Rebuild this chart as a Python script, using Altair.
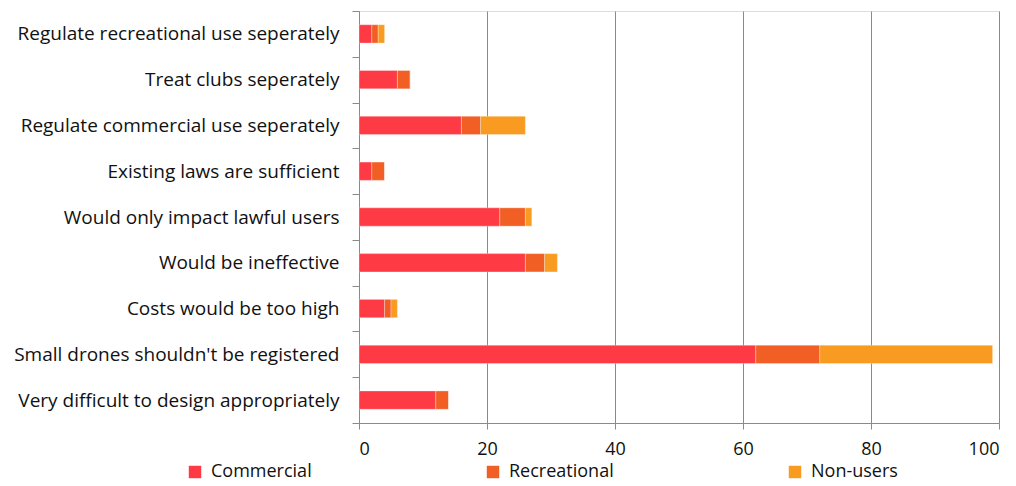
import altair as alt
import pandas as pd

# Survey responses: reasons given against drone registration, by respondent group
categories = [
    "Regulate recreational use seperately",
    "Treat clubs seperately",
    "Regulate commercial use seperately",
    "Existing laws are sufficient",
    "Would only impact lawful users",
    "Would be ineffective",
    "Costs would be too high",
    "Small drones shouldn't be registered",
    "Very difficult to design appropriately",
]
commercial = [2, 6, 16, 2, 22, 26, 4, 62, 12]
recreational = [1, 2, 3, 2, 4, 3, 1, 10, 2]
non_users = [1, 0, 7, 0, 1, 2, 1, 27, 0]

groups = ["Commercial", "Recreational", "Non-users"]
colors = ["#FE3B45", "#F15F24", "#F99B21"]
x_ticks = [0, 20, 40, 60, 80, 100]

rows = []
for i, cat in enumerate(categories):
    for g_idx, (g, vals) in enumerate(zip(groups, [commercial, recreational, non_users])):
        rows.append({"reason": cat, "group": g, "count": vals[i], "order": g_idx})
df = pd.DataFrame(rows)

FONT = "Open Sans"
GRID = "#8a8a8a"
TEXT = "#111111"

chart = (
    alt.Chart(df)
    .mark_bar(
        height={"band": 0.4},
        stroke="#ffffff",
        strokeWidth=0.6,
        strokeOpacity=0.5,
    )
    .encode(
        y=alt.Y(
            "reason:N",
            sort=categories,
            title=None,
            scale=alt.Scale(paddingInner=0, paddingOuter=0),
            axis=alt.Axis(
                tickBand="extent",
                tickSize=7,
                tickColor=GRID,
                domainColor=GRID,
                labelFontSize=19,
                labelFont=FONT,
                labelColor=TEXT,
                labelPadding=13,
                labelLimit=400,
                grid=False,
            ),
        ),
        x=alt.X(
            "count:Q",
            title=None,
            stack="zero",
            scale=alt.Scale(domain=[0, 100], nice=False),
            axis=alt.Axis(
                values=x_ticks,
                grid=True,
                gridColor=GRID,
                gridWidth=1,
                tickSize=6,
                tickColor=GRID,
                domainColor=GRID,
                labelFontSize=18,
                labelFont=FONT,
                labelColor=TEXT,
                labelPadding=11,
            ),
        ),
        color=alt.Color(
            "group:N",
            sort=groups,
            scale=alt.Scale(domain=groups, range=colors),
            legend=alt.Legend(
                title=None,
                orient="none",
                legendX=-173,
                legendY=452,
                direction="horizontal",
                symbolType="square",
                symbolSize=155,
                symbolStrokeWidth=0,
                labelFontSize=18,
                labelFont=FONT,
                labelColor=TEXT,
                labelOffset=7,
                columnPadding=172,
                labelLimit=400,
            ),
        ),
        order=alt.Order("order:Q"),
    )
    .properties(
        width=640,
        height=412,
        autosize=alt.AutoSizeParams(type="none"),
        padding={"left": 359, "top": 11, "right": 17, "bottom": 63},
    )
    .configure_view(stroke=None)
    .configure(background="#ffffff")
)

chart.save("out.html", embed_options={"renderer": "svg", "actions": False})
